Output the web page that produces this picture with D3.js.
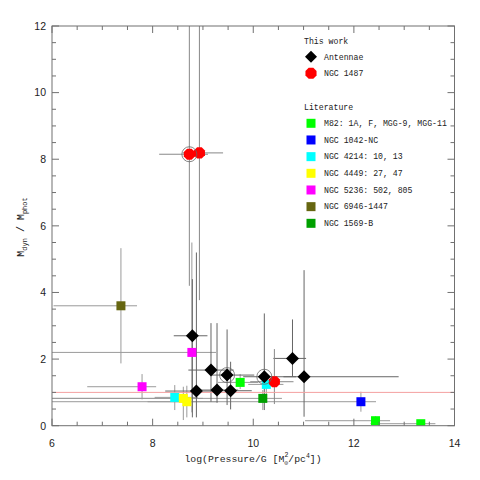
<!DOCTYPE html>
<html><head><meta charset="utf-8">
<script src="https://cdn.jsdelivr.net/npm/d3@7"></script>
<style>body{margin:0;background:#fff}</style>
</head><body><svg id="c" width="480" height="480"></svg>
<script>
// ---- data ----
const xTicks = [6, 8, 10, 12, 14];
const yTicks = [0, 2, 4, 6, 8, 10, 12];

const antX   = [8.79, 9.16, 9.48, 8.87, 9.28, 9.55, 10.22, 10.78, 11.01];
const antY   = [2.70, 1.67, 1.52, 1.04, 1.07, 1.05, 1.47, 2.02, 1.47];
const antXlo = [8.42, 8.71, 9.18, 8.25, 8.90, 9.20, 9.80, 10.40, 10.60];
const antXhi = [9.09, 9.61, 10.02, 9.30, 9.70, 9.97, 10.85, 11.05, 12.89];
const antYlo = [0.25, 0.72, 0.62, 0.25, 0.69, 0.49, 0.47, 1.47, 0.27];
const antYhi = [4.40, 3.08, 2.89, 5.20, 3.08, 1.92, 3.37, 3.19, 4.67];

const ngc1487X   = [8.73, 8.93, 10.42];
const ngc1487Y   = [8.15, 8.19, 1.32];
const ngc1487Xlo = [8.13, 8.60, 9.94];
const ngc1487Xhi = [9.10, 9.40, 10.80];
const ngc1487Ylo = [4.20, 3.77, 0.65];
const ngc1487Yhi = [13.0, 13.0, 2.30];

const circledX = [8.73, 9.48, 10.22];
const circledY = [8.15, 1.52, 1.47];

const litNames  = ["M82: 1A, F, MGG-9, MGG-11", "NGC 1042-NC", "NGC 4214: 10, 13", "NGC 4449: 27, 47", "NGC 5236: 502, 805", "NGC 6946-1447", "NGC 1569-B"];
const litColors = ["#00ff00", "#0000ff", "#00ffff", "#ffff00", "#ff00ff", "#666610", "#00a000"];
const litX   = [[9.74, 12.43, 13.33], [12.14], [8.44, 10.26], [8.61, 8.68], [7.79, 8.78], [7.37], [10.19]];
const litY   = [[1.30, 0.15, 0.06], [0.72], [0.85, 1.24], [0.82, 0.72], [1.17, 2.20], [3.60], [0.82]];
const litXlo = [[9.30, 11.03, 12.33], [5.0], [8.04, 9.90], [6.0, 7.90], [6.70, 5.5], [6.03], [5.5]];
const litXhi = [[10.10, 12.72, 13.62], [12.44], [8.90, 10.60], [9.00, 9.30], [8.07, 9.26], [7.69], [10.57]];
const litYlo = [[1.10, 0.05, 0.02], [0.42], [0.47, 0.90], [0.17, 0.25], [0.79, 0.40], [1.87], [0.47]];
const litYhi = [[1.55, 0.28, 0.12], [1.02], [1.22, 1.50], [1.17, 1.20], [1.55, 5.50], [5.33], [1.07]];

// ---- layout ----
const svg = d3.select("#c");
const L = 52, R = 454.5, T = 26, B = 425.7;
const x = d3.scaleLinear().domain([6, 14]).range([L, R]);
const y = d3.scaleLinear().domain([0, 12]).range([B, T]);
const frameCol = "#707070";

svg.append("defs").append("clipPath").attr("id", "clip")
  .append("rect").attr("x", L).attr("y", T).attr("width", R - L).attr("height", B - T);
const plot = svg.append("g").attr("clip-path", "url(#clip)");

// error bars
function errBars(X, Y, Xlo, Xhi, Ylo, Yhi, col) {
  X.forEach((xv, i) => {
    plot.append("line").attr("x1", x(Xlo[i])).attr("x2", x(Xhi[i])).attr("y1", y(Y[i])).attr("y2", y(Y[i]))
      .attr("stroke", col).attr("stroke-width", 1);
    plot.append("line").attr("x1", x(xv)).attr("x2", x(xv)).attr("y1", y(Ylo[i])).attr("y2", y(Yhi[i]))
      .attr("stroke", col).attr("stroke-width", 1);
  });
}
litX.forEach((X, g) => errBars(X, litY[g], litXlo[g], litXhi[g], litYlo[g], litYhi[g], "#9a9a9a"));
errBars(antX, antY, antXlo, antXhi, antYlo, antYhi, "#666");
errBars(ngc1487X, ngc1487Y, ngc1487Xlo, ngc1487Xhi, ngc1487Ylo, ngc1487Yhi, "#888");

// reference line at 1
plot.append("line").attr("x1", x(6)).attr("x2", x(14)).attr("y1", y(1)).attr("y2", y(1))
  .attr("stroke", "#f4a0a0").attr("stroke-width", 1);

// markers
const sq = 9;
litX.forEach((X, g) => {
  X.forEach((xv, i) => {
    plot.append("rect").attr("x", x(xv) - sq / 2).attr("y", y(litY[g][i]) - sq / 2)
      .attr("width", sq).attr("height", sq).attr("fill", litColors[g]);
  });
});
const dia = 6.5;
function diamond(cx, cy, r) { return `M${cx},${cy - r}L${cx + r},${cy}L${cx},${cy + r}L${cx - r},${cy}Z`; }
antX.forEach((xv, i) => plot.append("path").attr("d", diamond(x(xv), y(antY[i]), dia)).attr("fill", "#000"));
function octagon(cx, cy, r) {
  return d3.range(8).map(k => { const a = Math.PI / 8 + k * Math.PI / 4; return [cx + r * Math.cos(a), cy + r * Math.sin(a)]; });
}
ngc1487X.forEach((xv, i) => plot.append("polygon")
  .attr("points", octagon(x(xv), y(ngc1487Y[i]), 6).map(p => p.join(",")).join(" ")).attr("fill", "#ff0000"));
circledX.forEach((xv, i) => plot.append("circle").attr("cx", x(xv)).attr("cy", y(circledY[i])).attr("r", 7.5)
  .attr("fill", "none").attr("stroke", "#666").attr("stroke-width", 0.8));

// frame
svg.append("rect").attr("x", L).attr("y", T).attr("width", R - L).attr("height", B - T)
  .attr("fill", "none").attr("stroke", frameCol).attr("stroke-width", 1);

// ticks on all four sides
const xMinor = d3.range(6, 14.01, 0.5), yMinor = d3.range(0, 12.01, 0.5);
const tk = svg.append("g").attr("stroke", frameCol).attr("stroke-width", 1);
xMinor.forEach(v => {
  const len = (Math.abs(v % 2) < 1e-6) ? 7 : 4;
  tk.append("line").attr("x1", x(v)).attr("x2", x(v)).attr("y1", B).attr("y2", B - len);
  tk.append("line").attr("x1", x(v)).attr("x2", x(v)).attr("y1", T).attr("y2", T + len);
});
yMinor.forEach(v => {
  const len = (Math.abs(v % 2) < 1e-6) ? 7 : 4;
  tk.append("line").attr("x1", L).attr("x2", L + len).attr("y1", y(v)).attr("y2", y(v));
  tk.append("line").attr("x1", R).attr("x2", R - len).attr("y1", y(v)).attr("y2", y(v));
});

// tick labels
const lab = svg.append("g").attr("font-family", "Liberation Sans, Arial, sans-serif").attr("font-size", 10.5).attr("fill", "#222");
xTicks.forEach(v => lab.append("text").attr("x", x(v)).attr("y", 446.5).attr("text-anchor", "middle").text(v));
yTicks.forEach(v => lab.append("text").attr("x", 46).attr("y", y(v) + 3.8).attr("text-anchor", "end").text(v));

// axis titles
const mono = "Liberation Mono, DejaVu Sans Mono, monospace";
const xt = svg.append("text").attr("x", 253).attr("y", 462).attr("text-anchor", "middle")
  .attr("font-family", mono).attr("font-size", 9.8).attr("fill", "#222");
xt.append("tspan").text("log(Pressure/G [M");
xt.append("tspan").attr("font-size", 6.5).attr("dy", 2.5).text("\u2299");
xt.append("tspan").attr("font-size", 6.5).attr("dy", -7.5).attr("dx", -3.9).text("2");
xt.append("tspan").attr("dy", 5).text("/pc");
xt.append("tspan").attr("font-size", 6.5).attr("dy", -4).text("4");
xt.append("tspan").attr("dy", 4).text("])");

const yt = svg.append("text").attr("transform", "translate(24,227) rotate(-90)").attr("text-anchor", "middle")
  .attr("font-family", mono).attr("font-size", 10).attr("fill", "#222");
yt.append("tspan").text("M");
yt.append("tspan").attr("font-size", 7).attr("dy", 2.5).text("dyn");
yt.append("tspan").attr("dy", -2.5).text(" / M");
yt.append("tspan").attr("font-size", 7).attr("dy", 2.5).text("phot");

// legend
const lg = svg.append("g").attr("font-family", mono).attr("font-size", 8.2).attr("fill", "#222");
lg.append("text").attr("x", 304).attr("y", 43.5).text("This work");
lg.append("path").attr("d", diamond(311, 56.7, 6)).attr("fill", "#000");
lg.append("text").attr("x", 324).attr("y", 59.5).text("Antennae");
lg.append("polygon").attr("points", octagon(311, 73.3, 6).map(p => p.join(",")).join(" ")).attr("fill", "#ff0000");
lg.append("text").attr("x", 324).attr("y", 76).text("NGC 1487");
lg.append("text").attr("x", 304).attr("y", 110).text("Literature");
litNames.forEach((n, g) => {
  const cy = 123.3 + g * 16.67;
  lg.append("rect").attr("x", 311 - 4.5).attr("y", cy - 4.5).attr("width", 9).attr("height", 9).attr("fill", litColors[g]);
  lg.append("text").attr("x", 324).attr("y", cy + 2.8).text(n);
});
</script></body></html>
